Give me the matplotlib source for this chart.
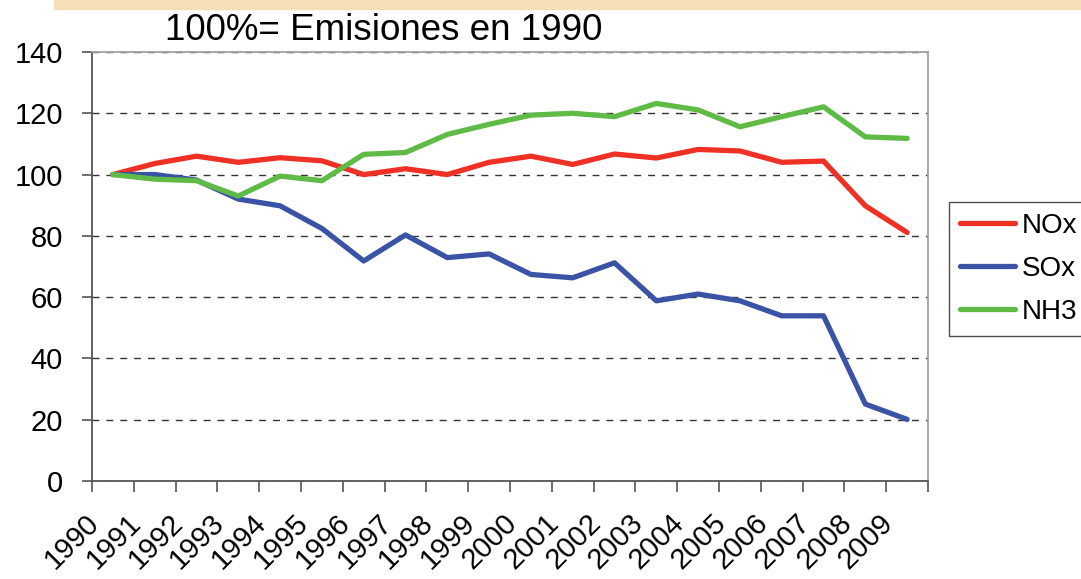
import matplotlib.pyplot as plt
from matplotlib.patches import Rectangle
from matplotlib.ticker import MultipleLocator
from matplotlib.transforms import ScaledTranslation

plt.rcParams['font.family'] = ['Liberation Sans', 'DejaVu Sans']

years = [str(y) for y in range(1990, 2010)]
nox = [100, 103.6, 106, 104, 105.5, 104.5, 100, 101.9, 100, 104,
       106, 103.3, 106.7, 105.4, 108.2, 107.7, 104, 104.4, 89.8, 81.1]
sox = [100, 100, 98.2, 92, 89.8, 82.4, 71.8, 80.3, 72.9, 74.1,
       67.4, 66.3, 71.2, 58.8, 61, 58.8, 53.9, 53.9, 25.1, 20.1]
nh3 = [100, 98.5, 98, 93, 99.5, 98, 106.6, 107.2, 113.1, 116.4,
       119.4, 120, 118.9, 123.2, 121.1, 115.6, 118.9, 122.1, 112.3, 111.8]
series_names = ['NOx', 'SOx', 'NH3']
series_colors = ['#ee3124', '#3a53a4', '#5fbb46']

fig = plt.figure(figsize=(10.81, 5.79), dpi=100)
# beige strip at the top of the slide
fig.patches.append(Rectangle((0.05, 0.985), 0.95, 0.015, transform=fig.transFigure,
                             color='#f6deb6', zorder=0))

ax = fig.add_axes([0.0851, 0.1693, 0.7734, 0.7409])
x = list(range(len(years)))
for vals, name, col in zip([nox, sox, nh3], series_names, series_colors):
    ax.plot(x, vals, color=col, lw=3.8, label=name, solid_capstyle='round')

ax.set_xlim(-0.5, len(years) - 0.5)
ax.set_ylim(0, 140)
ax.yaxis.set_major_locator(MultipleLocator(20))
ax.set_xticks(x)
ax.set_xticklabels(years, rotation=45, ha='right', rotation_mode='anchor', fontsize=21)
ax.tick_params(axis='x', which='major', length=0, pad=20)
shift = ScaledTranslation(-0.28, 0, fig.dpi_scale_trans)
for lab in ax.get_xticklabels():
    lab.set_transform(lab.get_transform() + shift)
ax.set_xticks([i - 0.5 for i in range(len(years) + 1)], minor=True)
ax.tick_params(axis='x', which='minor', length=8, width=1.2, color='#555555', direction='out')
ax.tick_params(axis='y', labelsize=21, length=7, width=1.2, color='#555555', pad=14)

ax.grid(axis='y', linestyle=(0, (5, 5)), color='#333333', lw=1)
for g in ax.yaxis.get_gridlines()[-1:]:
    g.set_visible(False)

ax.spines['left'].set_color('#555555')
ax.spines['bottom'].set_color('#555555')
ax.spines['left'].set_linewidth(1.3)
ax.spines['bottom'].set_linewidth(1.3)
ax.spines['top'].set_color('#a0a0a0')
ax.spines['right'].set_color('#a0a0a0')
ax.spines['top'].set_linewidth(1.3)
ax.spines['right'].set_linewidth(1.3)

fig.text(0.153, 0.948, '100%= Emisiones en 1990', fontsize=26.5, va='center', ha='left')

leg = fig.legend(loc='upper left', bbox_to_anchor=(0.878, 0.651), fontsize=20,
                 frameon=True, fancybox=False, edgecolor='#222222',
                 handlelength=2.0, handletextpad=0.25, labelspacing=0.62,
                 borderpad=0.38, borderaxespad=0)
leg.get_frame().set_linewidth(1.0)

plt.savefig('out.png', dpi=100)
